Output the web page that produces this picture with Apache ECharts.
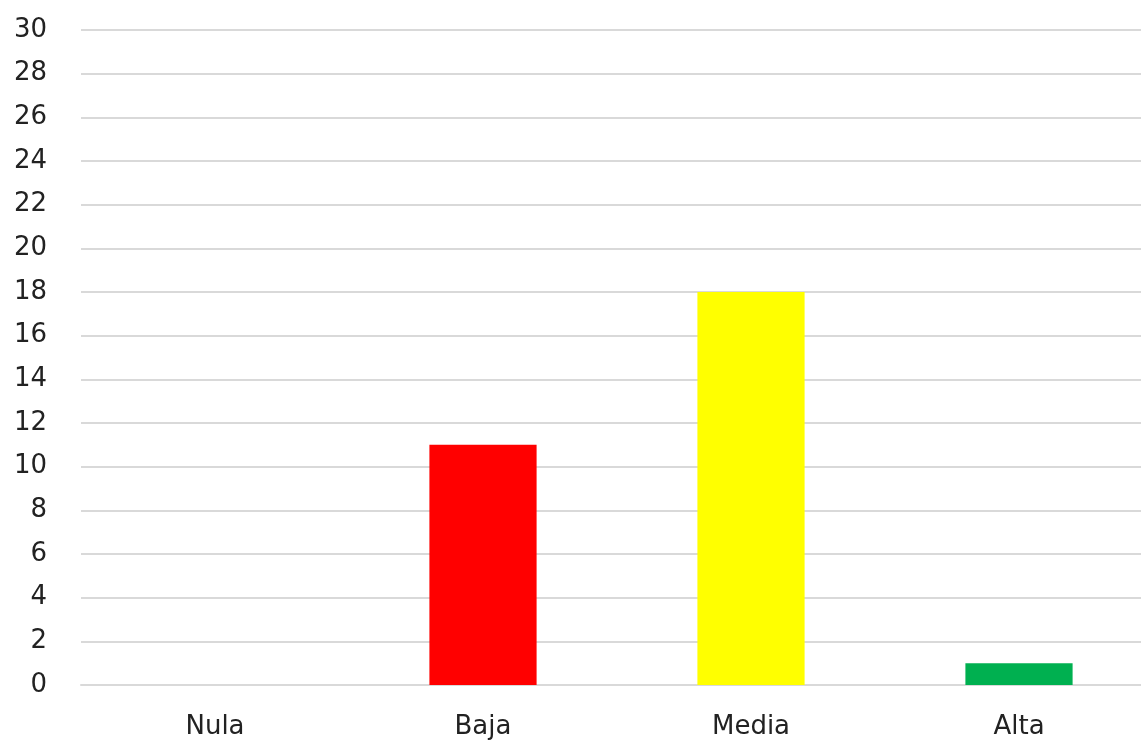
<!DOCTYPE html>
<html><head><meta charset="utf-8">
<script src="https://cdn.jsdelivr.net/npm/echarts@6/dist/echarts.min.js"></script>
<style>html,body{margin:0;padding:0;background:#fff;overflow:hidden}#c{width:1153px;height:740px}</style>
</head><body><div id="c"></div>
<script>
var categories = ["Nula", "Baja", "Media", "Alta"];
var values = [0, 11, 18, 1];
var colors = ["#5B9BD5", "#FF0000", "#FFFF00", "#00B050"];
var yMin = 0, yMax = 30, yStep = 2;

var chart = echarts.init(document.getElementById('c'));
chart.setOption({
  animation: false,
  backgroundColor: '#fff',
  grid: { left: 81, top: 30, right: 0, bottom: 54, containLabel: false },
  xAxis: {
    type: 'category', data: categories,
    axisLine: { show: true, lineStyle: { color: '#d9d9d9', width: 2 } },
    axisTick: { show: false },
    axisLabel: { color: '#222', fontSize: 26, fontFamily: 'DejaVu Sans', margin: 29 }
  },
  yAxis: {
    type: 'value', min: yMin, max: yMax, interval: yStep,
    axisLine: { show: false }, axisTick: { show: false },
    splitLine: { lineStyle: { color: '#d9d9d9', width: 2 } },
    axisLabel: { color: '#222', fontSize: 26, fontFamily: 'DejaVu Sans', margin: 34 }
  },
  series: [{
    type: 'bar', barWidth: '40%',
    data: values.map(function (v, i) { return { value: v, itemStyle: { color: colors[i] } }; })
  }]
});
</script></body></html>
